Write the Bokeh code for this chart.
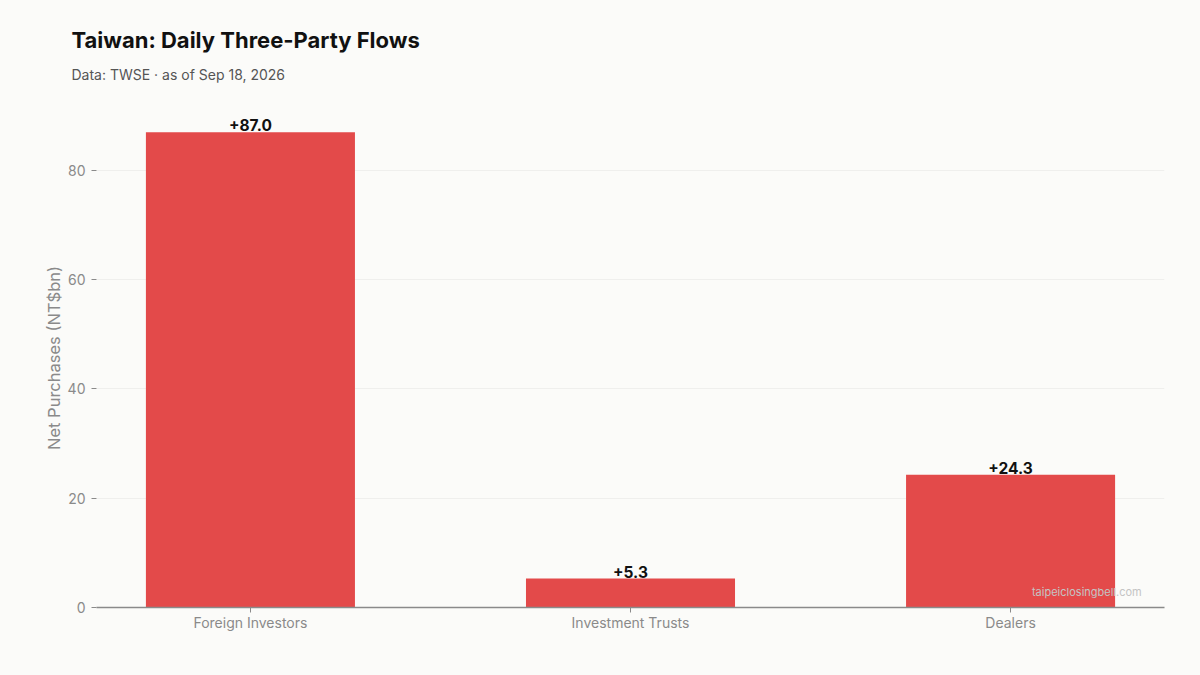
from bokeh.plotting import figure
from bokeh.models import ColumnDataSource, LabelSet, Label, Title, FixedTicker, Range1d
from bokeh.core.properties import value
from bokeh.embed import file_html
from bokeh.resources import INLINE

categories = ["Foreign Investors", "Investment Trusts", "Dealers"]
net_buy = [87.0, 5.3, 24.3]
y_ticks = [0, 20, 40, 60, 80]

BG = "#fbfbf9"
BAR = "#e34a4a"
GRAY = "#8a8a8a"
FONT = "Inter"

xs = list(range(len(categories)))
labels = ["%+.1f" % v for v in net_buy]
source = ColumnDataSource(data=dict(x=xs, y=net_buy, label=labels))

p = figure(frame_width=1068, frame_height=499,
           x_range=Range1d(-0.405, len(categories) - 1 + 0.405),
           y_range=Range1d(0, max(net_buy) * 1.05),
           min_border_left=96, min_border_right=36, min_border_top=108, min_border_bottom=68,
           background_fill_color=BG, border_fill_color=BG, outline_line_color=None,
           toolbar_location=None, tools="", title=None, output_backend="svg")

p.vbar(x="x", top="y", width=0.55, color=BAR, line_color=None, source=source)

value_labels = LabelSet(x="x", y="y", text="label", source=source, y_offset=1,
                        text_align="center", text_baseline="bottom",
                        text_font=value(FONT), text_font_size="15.5px", text_font_style="bold",
                        text_color="#111111")
p.add_layout(value_labels)

p.add_layout(Label(x=len(categories) - 1 + 0.345, y=2.75, text="taipeiclosingbell.com",
                   text_align="right", text_baseline="middle", text_font=FONT,
                   text_font_size="11px", text_color="#c4c4c4"))

# titles: added innermost first
p.add_layout(Title(text="Data: TWSE \u00b7 as of Sep 18, 2026", align="left", offset=-25,
                   text_font=FONT, text_font_size="14px", text_font_style="normal",
                   text_color="#555555", standoff=51), "above")
p.add_layout(Title(text="Taiwan: Daily Three-Party Flows", align="left", offset=-25,
                   text_font=FONT, text_font_size="22px", text_font_style="bold",
                   text_color="#111111", standoff=-28), "above")

p.xaxis.ticker = FixedTicker(ticks=xs)
p.xaxis.major_label_overrides = {i: c for i, c in enumerate(categories)}
p.yaxis.ticker = FixedTicker(ticks=y_ticks)

p.xaxis.axis_line_color = GRAY
p.xaxis.axis_line_width = 1.3
p.yaxis.axis_line_color = None
p.axis.major_tick_line_color = GRAY
p.axis.major_tick_in = 0
p.axis.major_tick_out = 5
p.axis.minor_tick_line_color = None
p.axis.major_label_text_font = FONT
p.axis.major_label_text_font_size = "14px"
p.axis.major_label_text_color = GRAY
p.xaxis.major_label_standoff = 1
p.yaxis.major_label_standoff = 6

p.yaxis.axis_label = "Net Purchases (NT$bn)"
p.yaxis.axis_label_text_font = FONT
p.yaxis.axis_label_text_font_size = "16.5px"
p.yaxis.axis_label_text_font_style = "normal"
p.yaxis.axis_label_text_color = GRAY
p.yaxis.axis_label_standoff = 1

p.xgrid.grid_line_color = None
p.ygrid.grid_line_color = "#efefed"
p.ygrid.grid_line_width = 1

html = file_html(p, INLINE)
html = html.replace("<body>", '<body style="background:%s">' % BG)
open("out.html", "w").write(html)
